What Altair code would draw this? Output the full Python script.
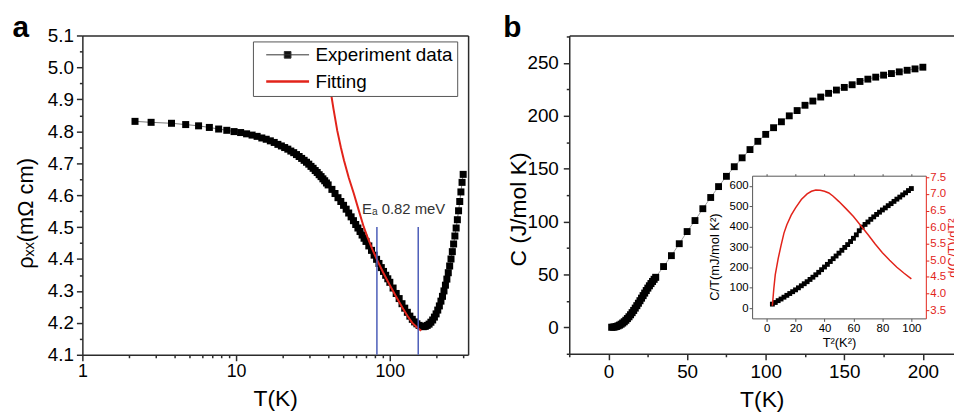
import altair as alt
import pandas as pd

FONT = "Liberation Sans"
RED = "#e2231a"
BLUE = "#4b5cb8"
DARK = "#2b2b2b"
W, H = 954, 405

# ---------------- panel a : resistivity ----------------
a_T = [2.2, 2.8, 3.8, 4.7, 5.7, 6.7, 7.7, 8.7, 9.7, 10.7, 11.7, 12.7, 13.7, 14.7, 15.7,
       16.7, 17.7, 18.7, 19.7, 20.7, 21.7, 22.7, 23.7, 24.7, 25.7, 26.7, 27.7, 28.7, 29.7,
       30.7, 31.7, 32.7, 33.7, 34.7, 35.7, 36.7, 37.7, 38.7, 39.7,
       42, 44, 46, 48, 50, 52, 54, 56, 58, 60, 62, 64, 66, 68, 70,
       73, 76, 79, 82, 85, 88, 91, 94, 97, 100,
       105, 110, 115, 120, 125, 130, 135, 140, 145, 150, 155, 160, 165, 170, 175, 180, 185,
       190, 195, 200, 205, 210, 215, 220, 225, 230, 235, 240, 245, 250, 255, 260, 265, 270,
       275, 280, 285, 290, 295, 300]
a_rho = [4.831, 4.828, 4.825, 4.821, 4.817, 4.812, 4.807, 4.803, 4.799, 4.796, 4.792, 4.788,
         4.784, 4.779, 4.775, 4.770, 4.765, 4.759, 4.754, 4.749, 4.744, 4.738, 4.733, 4.727,
         4.721, 4.715, 4.709, 4.703, 4.697, 4.690, 4.684, 4.677, 4.671, 4.664, 4.658, 4.651,
         4.645, 4.638, 4.632,
         4.618, 4.605, 4.592, 4.580, 4.568, 4.556, 4.544, 4.532, 4.520, 4.508, 4.497, 4.486,
         4.475, 4.465, 4.455,
         4.441, 4.427, 4.412, 4.399, 4.386, 4.373, 4.361, 4.349, 4.338, 4.327,
         4.309, 4.292, 4.276, 4.260, 4.246, 4.233, 4.221, 4.211, 4.203, 4.197, 4.192, 4.189,
         4.188, 4.189, 4.192, 4.196, 4.202, 4.209, 4.218, 4.228, 4.240, 4.253, 4.268, 4.283,
         4.300, 4.318, 4.337, 4.357, 4.378, 4.400, 4.423, 4.447, 4.472, 4.497, 4.523, 4.551,
         4.580, 4.610, 4.640, 4.665]
fit_T = [38, 40, 41.2, 43, 45.5, 48, 50.3, 54, 58.3, 63, 67.5, 72, 77, 82.4, 90, 100, 110,
         120, 130, 140, 150, 160]
fit_rho = [5.03, 4.96, 4.926, 4.87, 4.802, 4.75, 4.709, 4.655, 4.605, 4.55, 4.502, 4.465,
           4.43, 4.398, 4.36, 4.318, 4.282, 4.25, 4.222, 4.2, 4.186, 4.175]
ea_T = [82.4, 153]
ea_lo = [4.1, 4.1]
ea_hi = [4.5, 4.5]
ea_text_T = [66]
ea_text_rho = [4.557]
ea_text = ["Eₐ 0.82 meV"]
legend_names = ["Experiment data", "Fitting"]

a_x_major = [1, 10, 100]
a_x_minor = [2, 3, 4, 5, 6, 7, 8, 9, 20, 30, 40, 50, 60, 70, 80, 90, 200, 300]
a_y_major = [4.1, 4.2, 4.3, 4.4, 4.5, 4.6, 4.7, 4.8, 4.9, 5.0, 5.1]
a_y_minor = [4.15, 4.25, 4.35, 4.45, 4.55, 4.65, 4.75, 4.85, 4.95, 5.05]

# ---------------- panel b : heat capacity ----------------
b_T_dense = [2, 3, 4, 5, 6, 7, 8, 9, 10, 11, 12, 13, 14, 15, 16, 17, 18, 19, 20, 21, 22,
             23, 24, 25, 26, 27, 28, 29, 30]
b_C_dense = [0.1, 0.2, 0.4, 0.8, 1.4, 2.1, 3.0, 4.1, 5.3, 6.7, 8.3, 10.0, 11.9, 13.9, 16.0,
             18.2, 20.5, 22.8, 25.2, 27.6, 30.0, 32.4, 34.8, 37.1, 39.3, 41.4, 43.4, 45.4, 47.3]
b_T_sparse = [35, 40, 45, 50, 55, 60, 65, 70, 75, 80, 85, 90, 95, 100, 105, 110, 115, 120,
              125, 130, 135, 140, 145, 150, 155, 160, 165, 170, 175, 180, 185, 190, 195, 200]
b_C_sparse = [57.5, 67.8, 79.1, 90.6, 101, 112.2, 122.8, 133.1, 142.8, 151.9, 160.3, 168.1,
              175.9, 182.5, 188.8, 194.4, 200, 205, 210, 214, 217.8, 221.3, 224.4, 226.9,
              229.4, 232.5, 234.7, 236.6, 238.5, 240, 241.6, 243.1, 244.4, 246]
b_x_major = [0, 50, 100, 150, 200]
b_x_minor = [-25, 25, 75, 125, 175]
b_y_major = [0, 50, 100, 150, 200, 250]
b_y_minor = [-25, 25, 75, 125, 175, 225, 275]

# ---------------- inset ----------------
in_T2 = [4, 6, 8, 10, 12, 14, 16, 18, 20, 22, 24, 26, 28, 30, 32, 34, 36, 38, 40, 42, 44,
         46, 48, 50, 52, 54, 56, 58, 60, 62, 64, 66, 68, 70, 72, 74, 76, 78, 80, 82, 84, 86,
         88, 90, 92, 94, 96, 98, 100]
in_CT = [20, 28, 37, 45, 54, 63, 72, 81, 90, 100, 110, 120, 130, 141, 152, 164, 176, 189,
         202, 215, 229, 243, 256, 270, 284, 298, 312, 327, 343, 360, 380, 398, 411, 423, 436,
         448, 460, 471, 482, 492, 503, 513, 524, 535, 545, 556, 566, 577, 587]
in_dT2 = [4, 5, 6, 8, 10, 12, 14, 17, 20, 24, 28, 31, 34, 37, 40, 43, 46, 50, 55, 60, 65,
          70, 75, 80, 85, 90, 95, 100]
in_deriv = [3.63, 4.15, 4.57, 5.05, 5.45, 5.82, 6.07, 6.36, 6.58, 6.83, 7.0, 7.08, 7.12,
            7.11, 7.08, 7.03, 6.93, 6.77, 6.55, 6.32, 6.05, 5.78, 5.49, 5.23, 5.0, 4.79,
            4.61, 4.44]
in_x_major = [0, 20, 40, 60, 80, 100]
in_yl_major = [0, 100, 200, 300, 400, 500, 600]
in_yr_major = [3.5, 4.0, 4.5, 5.0, 5.5, 6.0, 6.5, 7.0, 7.5]

# ---------------- scales (pixel ranges place the panels) ----------------
A_BOT, A_TOP, A_L, A_R = 348, 26, 75, 464
B_BOT, B_TOP, B_L, B_R = 347, 26, 566, 954.3
I_BOT, I_TOP, I_L, I_R = 311.3, 167.4, 750.4, 925.6

xa = alt.Scale(type="log", domain=[1, 323], range=[A_L, A_R], nice=False)
ya = alt.Scale(domain=[4.1, 5.1], range=[A_BOT, A_TOP], nice=False, zero=False)
xb = alt.Scale(domain=[-25, 220], range=[B_L, B_R], nice=False, zero=False)
yb = alt.Scale(domain=[-25, 276], range=[B_BOT, B_TOP], nice=False, zero=False)
xi = alt.Scale(domain=[-10, 110], range=[I_L, I_R], nice=False, zero=False)
yil = alt.Scale(domain=[-50, 650], range=[I_BOT, I_TOP], nice=False, zero=False)
yir = alt.Scale(domain=[3.25, 7.55], range=[I_BOT, I_TOP], nice=False, zero=False)


def axis(orient, offset, **kw):
    base = dict(orient=orient, offset=offset, grid=False, labelFont=FONT, titleFont=FONT,
                domainColor=DARK, tickColor=DARK, labelColor="black", titleColor="black",
                titleFontWeight="normal", domainWidth=1.5, tickWidth=1.5, labelFlush=False,
                labelOverlap=False)
    base.update(kw)
    return alt.Axis(**base)


def minor(orient, offset, values, color=DARK, width=1.5):
    return axis(orient, offset, values=values, labels=False, domain=False, title=None,
                tickSize=3, tickColor=color, tickWidth=width)


def frame(orient, offset, **kw):
    return axis(orient, offset, labels=False, ticks=False, **kw)


def X(f, s, ax):
    return alt.X(f, type="quantitative", scale=s, axis=ax)


def Y(f, s, ax):
    return alt.Y(f, type="quantitative", scale=s, axis=ax)


df_a = pd.DataFrame({"T": a_T, "rho": a_rho})
df_fit = pd.DataFrame({"T": fit_T, "rho": fit_rho, "series": ["Fitting"] * len(fit_T)})
df_ea = pd.DataFrame({"T": ea_T, "lo": ea_lo, "hi": ea_hi})
df_lab = pd.DataFrame({"T": ea_text_T, "rho": ea_text_rho, "label": ea_text})

A1 = alt.Chart(df_a).mark_line(color="#555555", strokeWidth=0.8).encode(
    x=X("T", xa, axis("bottom", -(H - A_BOT), values=a_x_major, format="~g", tickSize=6,
                      labelFontSize=18, labelPadding=2, title="T(K)", titleFontSize=23,
                      titleY=44, titleBaseline="middle")),
    y=Y("rho", ya, axis("left", -A_L, values=a_y_major, format=".1f", tickSize=6,
                        labelFontSize=19, labelPadding=3, title="ρₓₓ(mΩ cm)",
                        titleFontSize=22, titleX=-57.5, titleY=205,
                        titleBaseline="middle")),
)
A2 = alt.Chart(df_a).mark_square(size=50, color="black", opacity=1).encode(
    x=X("T", xa, minor("bottom", -(H - A_BOT), a_x_minor)),
    y=Y("rho", ya, minor("left", -A_L, a_y_minor)),
)
legend_a = alt.Legend(
    orient="none", legendX=247, legendY=32, title=None, fillColor="white",
    strokeColor="#555555", padding=4, rowPadding=7,
    symbolType={"expr": "datum.value === 'Fitting' ? 'M-2.7,0L2.7,0' : "
                        "'M-2.7,0L2.7,0M-0.42,-0.42L0.42,-0.42L0.42,0.42L-0.42,0.42Z'"},
    symbolStrokeWidth={"expr": "datum.value === 'Fitting' ? 2.5 : 1"},
    symbolFillColor="#111111", symbolSize=256, symbolOffset=21.5, labelOffset=18.5,
    labelFont=FONT, labelFontSize=19, labelColor="black",
)
A3 = alt.Chart(df_fit).mark_line(strokeWidth=2).encode(
    x=X("T", xa, frame("top", -A_TOP, title="a", titleX=4, titleY=1.5, titleAlign="left",
                       titleAngle=0, titleBaseline="alphabetic", titleFontSize=30,
                       titleFontWeight="bold")),
    y=Y("rho", ya, frame("right", -(W - A_R), title=None)),
    color=alt.Color("series:N", scale=alt.Scale(domain=legend_names, range=["#333333", RED]),
                    legend=legend_a),
)
A4 = alt.Chart(df_ea).mark_rule(color=BLUE, strokeWidth=1.5).encode(
    x=X("T", xa, None), y=Y("lo", ya, None), y2="hi")
A5 = alt.Chart(df_lab).mark_text(align="left", baseline="middle", font=FONT, fontSize=15,
                                 color="#333333").encode(
    x=X("T", xa, None), y=Y("rho", ya, None), text="label:N")

df_b_all = pd.DataFrame({"T": b_T_dense + b_T_sparse, "C": b_C_dense + b_C_sparse})
df_b_dense = pd.DataFrame({"T": b_T_dense, "C": b_C_dense})
df_b_sparse = pd.DataFrame({"T": b_T_sparse, "C": b_C_sparse})

B1 = alt.Chart(df_b_all).mark_line(color="#888888", strokeWidth=0.8).encode(
    x=X("T", xb, axis("bottom", -(H - B_BOT), values=b_x_major, tickSize=6,
                      labelFontSize=19, labelPadding=3, title="T(K)", titleFontSize=23,
                      titleY=46, titleBaseline="middle")),
    y=Y("C", yb, axis("left", -B_L, values=b_y_major, tickSize=6, labelFontSize=19,
                      labelPadding=5, title="C (J/mol K)", titleFontSize=23, titleX=-51,
                      titleY=201, titleBaseline="middle")),
)
B2 = alt.Chart(df_b_dense).mark_square(size=50, color="black", opacity=1).encode(
    x=X("T", xb, minor("bottom", -(H - B_BOT), b_x_minor)),
    y=Y("C", yb, minor("left", -B_L, b_y_minor)),
)
B3 = alt.Chart(df_b_sparse).mark_square(size=48, color="black", opacity=1).encode(
    x=X("T", xb, frame("top", -B_TOP, title="b", titleX=499, titleY=1.5, titleAlign="left",
                       titleAngle=0, titleBaseline="alphabetic", titleFontSize=30,
                       titleFontWeight="bold")),
    y=Y("C", yb, None),
)

df_in = pd.DataFrame({"T2": in_T2, "CT": in_CT})
df_in_d = pd.DataFrame({"T2": in_dT2, "d": in_deriv})
GRAY = "#555555"
I1 = alt.Chart(df_in).mark_square(size=24, color="black", opacity=1).encode(
    x=X("T2", xi, axis("bottom", -(H - I_BOT), values=in_x_major, tickSize=3,
                       labelFontSize=11.5, labelPadding=1, title="T²(K²)", titleFontSize=13,
                       titleY=24, titleBaseline="middle", domainColor=GRAY, tickColor=GRAY,
                       domainWidth=1, tickWidth=1)),
    y=Y("CT", yil, axis("left", -I_L, values=in_yl_major, tickSize=3, labelFontSize=11.5,
                        labelPadding=1, title="C/T(mJ/mol K²)", titleFontSize=13,
                        titleX=-38, titleY=249, titleBaseline="middle", domainColor=GRAY,
                        tickColor=GRAY, domainWidth=1, tickWidth=1)),
)
I2 = alt.Chart(df_in_d).mark_line(color=RED, strokeWidth=1.5).encode(
    x=X("T2", xi, axis("top", -I_TOP, values=in_x_major, labels=False, tickSize=2,
                       title=None, domainColor=GRAY, tickColor=GRAY, domainWidth=1,
                       tickWidth=1)),
    y=Y("d", yir, axis("right", -(W - I_R), values=in_yr_major, format=".1f", tickSize=3,
                       labelFontSize=11.5, labelPadding=1, labelColor=RED, tickColor=RED,
                       domainColor=RED, domainWidth=1, tickWidth=1, title="d(C/T)/dT²",
                       titleColor=RED, titleFontSize=13, titleAngle=270, titleX=27,
                       titleY=240, titleBaseline="middle")),
)

chart = (
    alt.layer(A1, A2, A3, A4, A5, B1, B2, B3, I1, I2)
    .resolve_scale(x="independent", y="independent", color="independent")
    .properties(width=W, height=H, autosize=alt.AutoSizeParams(type="none"), padding=0)
    .configure_view(stroke=None)
    .configure_axis(grid=False)
)

chart.save("out.html", embed_options={"renderer": "svg", "actions": False})
